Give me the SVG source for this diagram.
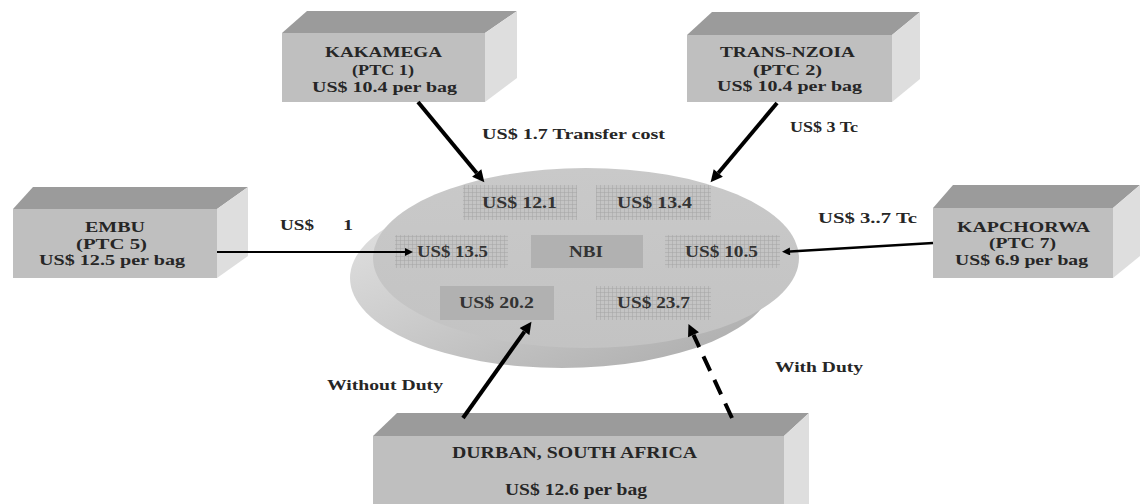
<svg xmlns="http://www.w3.org/2000/svg" width="1140" height="504" viewBox="0 0 1140 504">
<defs>
<style>
text{font-family:"Liberation Serif","Times New Roman",serif;font-weight:bold;fill:#262626}
.nt{font-size:15px}
.it{font-size:17px;fill:#333}
.el{font-size:14px}
.dt{font-size:16px}
.front{fill:#bfbfbf}
.top{fill:#9b9b9b}
.side{fill:#dedede}
.conn{stroke:#000;fill:none}
.thick{stroke-width:4}
.thin{stroke-width:2}
.grid{fill:url(#grid)}
.solid{fill:#b1b1b1}
</style>
<pattern id="grid" width="4" height="4" patternUnits="userSpaceOnUse">
<rect width="4" height="4" fill="#c4c4c4"/>
<path d="M0,0.3H4M0.3,0V4" stroke="#a3a3a3" stroke-width="0.6"/>
</pattern>
<linearGradient id="rim" x1="0" y1="0" x2="1" y2="1">
<stop offset="0" stop-color="#e6e6e6"/>
<stop offset="0.5" stop-color="#c8c8c8"/>
<stop offset="1" stop-color="#a9a9a9"/>
</linearGradient>
<linearGradient id="disc" x1="0" y1="0" x2="0" y2="1">
<stop offset="0" stop-color="#c9c9c9"/>
<stop offset="1" stop-color="#c3c3c3"/>
</linearGradient>
<marker id="ahT" viewBox="0 0 10 10" refX="0" refY="5" markerWidth="13" markerHeight="12" markerUnits="userSpaceOnUse" orient="auto">
<path d="M0,0L10,5L0,10z" fill="#000"/>
</marker>
<marker id="ahS" viewBox="0 0 10 10" refX="0" refY="5" markerWidth="10" markerHeight="8" markerUnits="userSpaceOnUse" orient="auto">
<path d="M0,0L10,5L0,10z" fill="#000"/>
</marker>
</defs>
<rect width="1140" height="504" fill="#fff"/>

<g id="nbi-disc">
<ellipse cx="562" cy="278" rx="212" ry="90" fill="url(#rim)"/>
<ellipse cx="586" cy="258" rx="213" ry="90" fill="url(#disc)"/>
</g>

<g id="p121"><rect class="grid" x="463" y="185" width="114" height="35"/><text class="it" x="482" y="208" textLength="75" lengthAdjust="spacingAndGlyphs">US$ 12.1</text></g>
<g id="p134"><rect class="grid" x="596" y="185" width="115" height="35"/><text class="it" x="617" y="208" textLength="75" lengthAdjust="spacingAndGlyphs">US$ 13.4</text></g>
<g id="p135"><rect class="grid" x="395" y="235" width="113" height="33"/><text class="it" x="417" y="257" textLength="71" lengthAdjust="spacingAndGlyphs">US$ 13.5</text></g>
<g id="nbi"><rect class="solid" x="531" y="235" width="112" height="33"/><text class="it" x="569" y="257" textLength="34" lengthAdjust="spacingAndGlyphs">NBI</text></g>
<g id="p105"><rect class="grid" x="665" y="235" width="115" height="33"/><text class="it" x="685" y="257" textLength="73" lengthAdjust="spacingAndGlyphs">US$ 10.5</text></g>
<g id="p202"><rect class="solid" x="440" y="286" width="114" height="34"/><text class="it" x="459" y="308" textLength="75" lengthAdjust="spacingAndGlyphs">US$ 20.2</text></g>
<g id="p237"><rect class="grid" x="596" y="286" width="115" height="34"/><text class="it" x="617" y="308" textLength="73" lengthAdjust="spacingAndGlyphs">US$ 23.7</text></g>

<g id="kakamega">
<polygon class="top" points="282,33 307,11 517,11 485,33"/>
<polygon class="side" points="485,33 517,11 517,78 485,102"/>
<rect class="front" x="282" y="33" width="203" height="69"/>
<text class="nt" x="325" y="57" textLength="117" lengthAdjust="spacingAndGlyphs">KAKAMEGA</text>
<text class="nt" x="352" y="75" textLength="62" lengthAdjust="spacingAndGlyphs">(PTC 1)</text>
<text class="nt" x="312" y="92" textLength="145" lengthAdjust="spacingAndGlyphs">US$ 10.4 per bag</text>
</g>

<g id="trans-nzoia">
<polygon class="top" points="687,35 712,12 920,12 892,35"/>
<polygon class="side" points="892,35 920,12 920,79 892,102"/>
<rect class="front" x="687" y="35" width="205" height="67"/>
<text class="nt" x="720" y="57" textLength="135" lengthAdjust="spacingAndGlyphs">TRANS-NZOIA</text>
<text class="nt" x="753" y="75" textLength="69" lengthAdjust="spacingAndGlyphs">(PTC 2)</text>
<text class="nt" x="717" y="91" textLength="145" lengthAdjust="spacingAndGlyphs">US$ 10.4 per bag</text>
</g>

<g id="embu">
<polygon class="top" points="13,209 33,187 248,187 217,209"/>
<polygon class="side" points="217,209 248,187 248,256 217,278"/>
<rect class="front" x="13" y="209" width="204" height="69"/>
<text class="nt" x="85" y="232" textLength="60" lengthAdjust="spacingAndGlyphs">EMBU</text>
<text class="nt" x="76" y="249" textLength="71" lengthAdjust="spacingAndGlyphs">(PTC 5)</text>
<text class="nt" x="39" y="265" textLength="146" lengthAdjust="spacingAndGlyphs">US$ 12.5 per bag</text>
</g>

<g id="kapchorwa">
<polygon class="top" points="933,208 953,185 1140,185 1113,208"/>
<polygon class="side" points="1113,208 1140,185 1140,256 1113,278"/>
<rect class="front" x="933" y="208" width="180" height="70"/>
<text class="nt" x="957" y="232" textLength="133" lengthAdjust="spacingAndGlyphs">KAPCHORWA</text>
<text class="nt" x="989" y="248" textLength="67" lengthAdjust="spacingAndGlyphs">(PTC 7)</text>
<text class="nt" x="955" y="265" textLength="133" lengthAdjust="spacingAndGlyphs">US$ 6.9 per bag</text>
</g>

<g id="durban">
<polygon class="top" points="373,436 397,413 809,413 784,436"/>
<polygon class="side" points="784,436 809,413 809,504 784,504"/>
<rect class="front" x="373" y="436" width="411" height="68"/>
<text class="dt" x="452" y="458" textLength="245" lengthAdjust="spacingAndGlyphs">DURBAN, SOUTH AFRICA</text>
<text class="dt" x="505" y="495" textLength="142" lengthAdjust="spacingAndGlyphs">US$ 12.6 per bag</text>
</g>

<g id="connectors">
<line class="conn thick" x1="418" y1="102" x2="476.7" y2="173" marker-end="url(#ahT)"/>
<line class="conn thick" x1="777" y1="103" x2="718.3" y2="173" marker-end="url(#ahT)"/>
<line class="conn thin" x1="217" y1="252" x2="405" y2="252" marker-end="url(#ahS)"/>
<line class="conn" stroke-width="2.5" x1="933" y1="243" x2="790" y2="251.4" marker-end="url(#ahS)"/>
<line class="conn thick" x1="463" y1="418" x2="524.5" y2="331.6" marker-end="url(#ahT)"/>
<line class="conn thick" stroke-dasharray="16,10" x1="732" y1="418" x2="693.5" y2="334.8" marker-end="url(#ahT)"/>
</g>

<g id="labels">
<text class="el" x="482" y="139" textLength="183" lengthAdjust="spacingAndGlyphs">US$ 1.7 Transfer cost</text>
<text class="el" x="790" y="132" textLength="68" lengthAdjust="spacingAndGlyphs">US$ 3 Tc</text>
<text class="el" y="230" style="font-size:15px"><tspan x="280" textLength="34" lengthAdjust="spacingAndGlyphs">US$</tspan><tspan x="343" textLength="10" lengthAdjust="spacingAndGlyphs">1</tspan></text>
<text class="el" x="818" y="223" textLength="99" lengthAdjust="spacingAndGlyphs">US$ 3..7 Tc</text>
<text class="el" x="327" y="390" textLength="116" lengthAdjust="spacingAndGlyphs">Without Duty</text>
<text class="el" x="775" y="372" textLength="88" lengthAdjust="spacingAndGlyphs">With Duty</text>
</g>
</svg>
